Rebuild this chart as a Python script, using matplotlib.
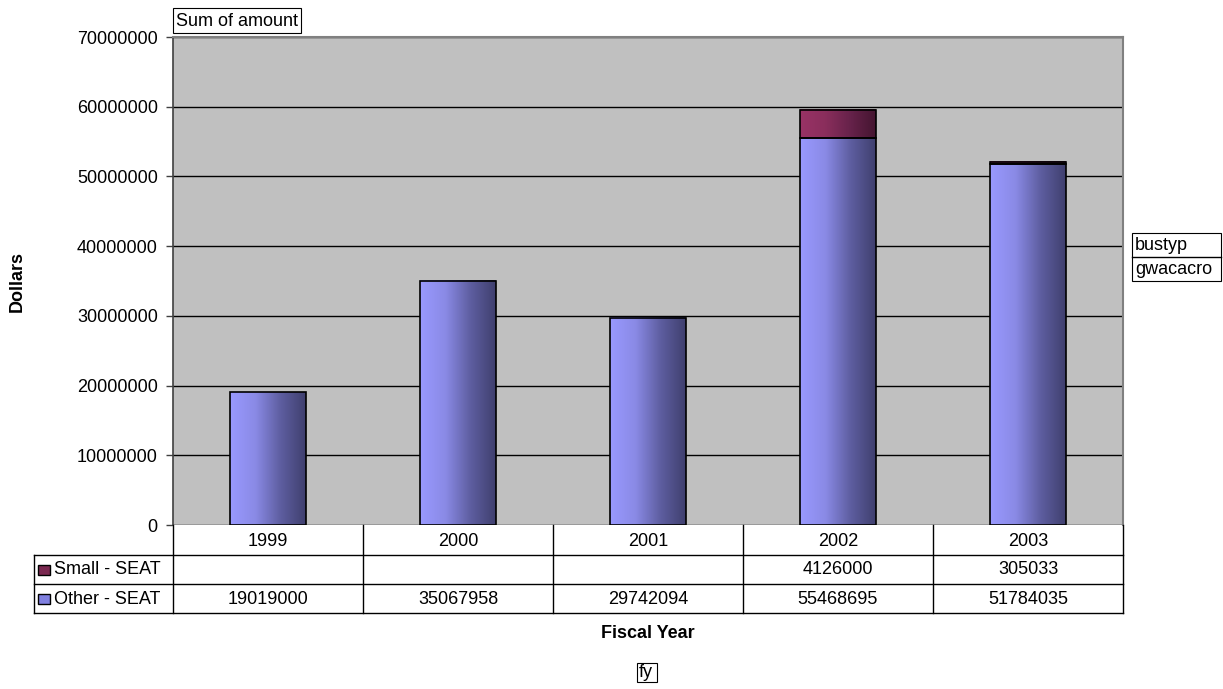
import matplotlib.pyplot as plt
import matplotlib
import numpy as np
from matplotlib.colors import LinearSegmentedColormap
from matplotlib.patches import Rectangle

matplotlib.rcParams['font.family'] = ['Liberation Sans', 'DejaVu Sans']

# 数据
years = ['1999', '2000', '2001', '2002', '2003']
other_seat = [19019000, 35067958, 29742094, 55468695, 51784035]
small_seat = [None, None, None, 4126000, 305033]
series_names = ['Small - SEAT', 'Other - SEAT']

FS = 13
W, H = 1223, 689
fig = plt.figure(figsize=(W / 100, H / 100), dpi=100)
fig.patch.set_facecolor('white')


def fx(px):
    return px / W


def fy(py):
    return 1 - py / H


def box(x0, y0, x1, y1):
    # 像素坐标画白底黑框
    fig.add_artist(Rectangle((fx(x0), fy(y1)), fx(x1) - fx(x0), fy(y0) - fy(y1), facecolor='white',
                             edgecolor='black', linewidth=0.8, transform=fig.transFigure))


ax = fig.add_axes([fx(173), fy(525), fx(1123) - fx(173), fy(37) - fy(525)])
ax.set_facecolor('#C0C0C0')

x = np.arange(len(years))
small_vals = [v if v is not None else 0 for v in small_seat]

bars_other = ax.bar(x, other_seat, width=0.4, color='none', edgecolor='black', linewidth=1.2, zorder=4)
bars_small = ax.bar(x, small_vals, width=0.4, bottom=other_seat, color='none', edgecolor='black',
                    linewidth=1.2, zorder=4)

cmap_other = LinearSegmentedColormap.from_list('other', ['#9999FF', '#8A8AE6', '#5E5EA0', '#3F3F6E'])
cmap_small = LinearSegmentedColormap.from_list('small', ['#993366', '#8A2E5C', '#66224A', '#441530'])
grad = np.linspace(0, 1, 256).reshape(1, -1)

# 渐变填充
for bars, cmap, vals in [(bars_other, cmap_other, other_seat), (bars_small, cmap_small, small_seat)]:
    for b, v in zip(bars, vals):
        if v is None:
            b.set_visible(False)
            continue
        x0, y0, w, h = b.get_x(), b.get_y(), b.get_width(), b.get_height()
        ax.imshow(grad, cmap=cmap, aspect='auto', extent=(x0, x0 + w, y0, y0 + h),
                  interpolation='bilinear', zorder=3)

ax.set_xlim(-0.5, len(years) - 0.5)
ax.set_ylim(0, 70000000)
ax.set_yticks(np.arange(0, 70000001, 10000000))
ax.set_yticklabels([str(int(v)) for v in np.arange(0, 70000001, 10000000)], fontsize=FS)
ax.yaxis.grid(True, color='black', linewidth=1)
ax.set_axisbelow(True)
ax.set_xticks([])
ax.tick_params(axis='y', length=5, width=1, color='#404040', pad=6)
ax.spines['bottom'].set_visible(False)
ax.spines['top'].set_color('#808080')
ax.spines['top'].set_linewidth(1.5)
ax.spines['top'].set_zorder(5)
ax.spines['left'].set_color('#404040')
ax.spines['left'].set_linewidth(1.2)
ax.spines['right'].set_color('#808080')
ax.spines['right'].set_linewidth(1.5)

# 数据表
line_kw = dict(color='black', linewidth=1, transform=fig.transFigure)
col_edges = [173 + 190 * i for i in range(len(years) + 1)]
row_edges = [525, 555, 584, 613]
for yy in row_edges[1:]:
    fig.add_artist(plt.Line2D([fx(34), fx(1123)], [fy(yy), fy(yy)], **line_kw))
for xx in col_edges:
    fig.add_artist(plt.Line2D([fx(xx), fx(xx)], [fy(525), fy(613)], **line_kw))
fig.add_artist(plt.Line2D([fx(34), fx(34)], [fy(555), fy(613)], **line_kw))

for i, yr in enumerate(years):
    cx = (col_edges[i] + col_edges[i + 1]) / 2
    fig.text(fx(cx), fy(541), yr, ha='center', va='center', fontsize=FS)
    if small_seat[i] is not None:
        fig.text(fx(cx), fy(570), str(small_seat[i]), ha='center', va='center', fontsize=FS)
    fig.text(fx(cx), fy(599), str(other_seat[i]), ha='center', va='center', fontsize=FS)

for name, ry, col in [(series_names[0], 570, '#7A2850'), (series_names[1], 599, '#8080E0')]:
    fig.add_artist(Rectangle((fx(38), fy(ry + 5)), fx(12), fy(ry - 5) - fy(ry + 5), facecolor=col,
                             edgecolor='black', linewidth=1, transform=fig.transFigure))
    fig.text(fx(54), fy(ry), name, ha='left', va='center', fontsize=FS)

# 标签
fig.text(fx(17), fy(281), 'Dollars', rotation=90, ha='center', va='center', fontsize=FS, fontweight='bold')
fig.text(fx(648), fy(634), 'Fiscal Year', ha='center', va='center', fontsize=FS, fontweight='bold')

box(173, 8, 301, 33)
fig.text(fx(176), fy(21), 'Sum of amount', ha='left', va='center', fontsize=FS)
box(637, 663, 657, 682)
fig.text(fx(639), fy(672.5), 'fy', ha='left', va='center', fontsize=FS)
box(1132, 233, 1221, 281)
fig.add_artist(plt.Line2D([fx(1132), fx(1221)], [fy(257), fy(257)], **line_kw))
fig.text(fx(1135), fy(245), 'bustyp', ha='left', va='center', fontsize=FS)
fig.text(fx(1135), fy(269), 'gwacacro', ha='left', va='center', fontsize=FS)

fig.savefig('out.png', dpi=100)
